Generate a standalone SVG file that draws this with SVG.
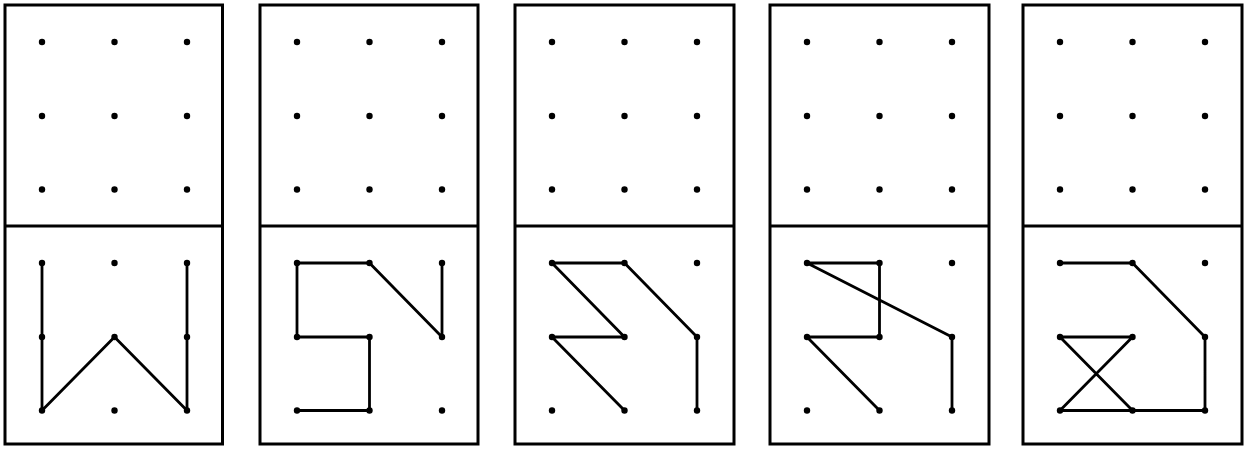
<svg xmlns="http://www.w3.org/2000/svg" xmlns:xlink="http://www.w3.org/1999/xlink" width="1252" height="449" viewBox="0 0 1252 449">
<style>
.frame{fill:none;stroke:#000;stroke-width:3}
.mid{stroke:#000;stroke-width:3}
.dot{fill:#000}
.pl{fill:none;stroke:#000;stroke-width:2.8;stroke-linejoin:round;stroke-linecap:round}
</style>
<defs>
<g id="grid9">
<circle class="dot" cx="0" cy="0" r="3.2"/><circle class="dot" cx="72.5" cy="0" r="3.2"/><circle class="dot" cx="145" cy="0" r="3.2"/>
<circle class="dot" cx="0" cy="74" r="3.2"/><circle class="dot" cx="72.5" cy="74" r="3.2"/><circle class="dot" cx="145" cy="74" r="3.2"/>
<circle class="dot" cx="0" cy="147.5" r="3.2"/><circle class="dot" cx="72.5" cy="147.5" r="3.2"/><circle class="dot" cx="145" cy="147.5" r="3.2"/>
</g>
</defs>
<rect width="1252" height="449" fill="#fff"/>
<g id="panel1">
<rect class="frame" x="5" y="5" width="217.5" height="439"/>
<line class="mid" x1="5" y1="226" x2="222.5" y2="226"/>
<use xlink:href="#grid9" href="#grid9" x="42" y="42"/>
<use xlink:href="#grid9" href="#grid9" x="42" y="263"/>
</g>
<g id="panel2">
<rect class="frame" x="260" y="5" width="218" height="439"/>
<line class="mid" x1="260" y1="226" x2="478" y2="226"/>
<use xlink:href="#grid9" href="#grid9" x="297" y="42"/>
<use xlink:href="#grid9" href="#grid9" x="297" y="263"/>
</g>
<g id="panel3">
<rect class="frame" x="515" y="5" width="219" height="439"/>
<line class="mid" x1="515" y1="226" x2="734" y2="226"/>
<use xlink:href="#grid9" href="#grid9" x="552" y="42"/>
<use xlink:href="#grid9" href="#grid9" x="552" y="263"/>
</g>
<g id="panel4">
<rect class="frame" x="770" y="5" width="219" height="439"/>
<line class="mid" x1="770" y1="226" x2="989" y2="226"/>
<use xlink:href="#grid9" href="#grid9" x="807" y="42"/>
<use xlink:href="#grid9" href="#grid9" x="807" y="263"/>
</g>
<g id="panel5">
<rect class="frame" x="1023" y="5" width="219" height="439"/>
<line class="mid" x1="1023" y1="226" x2="1242" y2="226"/>
<use xlink:href="#grid9" href="#grid9" x="1060" y="42"/>
<use xlink:href="#grid9" href="#grid9" x="1060" y="263"/>
</g>
<g id="connectors">
<polyline class="pl" points="42,263 42,410.5 114.5,337 187,410.5 187,263"/>
<polyline class="pl" points="442,263 442,337 369.5,263 297,263 297,337 369.5,337 369.5,410.5 297,410.5"/>
<polyline class="pl" points="697,410.5 697,337 624.5,263 552,263 624.5,337 552,337 624.5,410.5"/>
<polyline class="pl" points="879.5,410.5 807,337 879.5,337 879.5,263 807,263 952,337 952,410.5"/>
<polyline class="pl" points="1060,263 1132.5,263 1205,337 1205,410.5 1060,410.5 1132.5,337 1060,337 1132.5,410.5"/>
</g>
</svg>
